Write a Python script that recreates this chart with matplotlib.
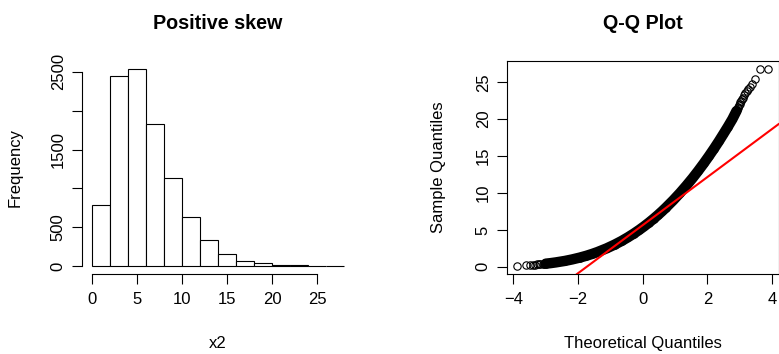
import matplotlib
matplotlib.use("Agg")
import matplotlib.pyplot as plt

plt.rcParams['font.family'] = ['Liberation Sans', 'DejaVu Sans']

# histogram of x2 (bins of width 2)
bin_edges = [0, 2, 4, 6, 8, 10, 12, 14, 16, 18, 20, 22, 24, 26, 28]
counts = [787, 2453, 2539, 1824, 1140, 628, 336, 155, 65, 34, 13, 8, 3, 2]
freq_ticks = [0, 500, 1000, 1500, 2000, 2500]
freq_labels = ['0', '500', '', '1500', '', '2500']

# normal Q-Q plot of x2: sparse low tail, dense body, sparse high tail
theo_low = [-3.89, -3.62, -3.48, -3.39, -3.32, -3.26, -3.22, -3.17, -3.10, -3.05]
samp_low = [0.12, 0.20, 0.24, 0.27, 0.30, 0.32, 0.34, 0.36, 0.40, 0.42]

theo_mid = [-3.00, -2.855, -2.69, -2.41, -2.187, -1.95, -1.744, -1.565, -1.403,
            -1.119, -0.874, -0.655, -0.459, -0.278, -0.110, 0.047, 0.194, 0.333,
            0.466, 0.592, 0.712, 0.940, 1.152, 1.350, 1.539, 1.716, 1.886,
            2.048, 2.204, 2.354, 2.497, 2.638, 2.773, 2.90]
samp_mid = [0.43, 0.5, 0.6, 0.8, 1.0, 1.25, 1.5, 1.75, 2.0,
            2.5, 3.0, 3.5, 4.0, 4.5, 5.0, 5.5, 6.0, 6.5,
            7.0, 7.5, 8.0, 9.0, 10.0, 11.0, 12.0, 13.0, 14.0,
            15.0, 16.0, 17.0, 18.0, 19.0, 20.0, 21.1]

theo_high = [2.92, 2.94, 2.96, 2.98, 3.00, 3.02, 3.05, 3.07, 3.10, 3.14, 3.17,
             3.22, 3.26, 3.32, 3.39, 3.48, 3.62, 3.89]
samp_high = [21.3, 21.5, 21.7, 21.9, 22.1, 22.3, 22.5, 22.7, 22.9, 23.2, 23.5,
             23.8, 24.1, 24.4, 24.8, 25.4, 26.8, 26.8]

# quartiles used for the reference line
norm_quart = [-0.674, 0.674]
samp_quart = [3.455, 7.841]

fig = plt.figure(figsize=(7.79, 3.54), dpi=100)
W, H = 779, 354

FS = 12
tick_kw = dict(direction='out', length=7.2, width=0.8, labelsize=FS, color='black')

# --- left: histogram ---
ax1 = fig.add_axes([82 / W, 80 / H, 272 / W, 213 / H])
ax1.hist(bin_edges[:-1], bins=bin_edges, weights=counts,
         color='white', edgecolor='black', linewidth=0.8)
ax1.set_xlim(-1.12, 29.12)
ax1.set_ylim(-101.6, 2640)
for s in ['top', 'right']:
    ax1.spines[s].set_visible(False)
ax1.spines['left'].set_bounds(0, 2500)
ax1.spines['bottom'].set_bounds(0, 25)
for s in ['left', 'bottom']:
    ax1.spines[s].set_linewidth(0.8)
ax1.set_xticks([0, 5, 10, 15, 20, 25])
ax1.set_yticks(freq_ticks)
ax1.set_yticklabels(freq_labels)
ax1.tick_params(axis='x', pad=5.5, **tick_kw)
ax1.tick_params(axis='y', pad=4.5, labelrotation=90, **tick_kw)
for t in ax1.get_yticklabels():
    t.set_va('center')
ax1.set_xlabel('x2', fontsize=FS)
ax1.set_ylabel('Frequency', fontsize=FS)
ax1.xaxis.set_label_coords(0.5, -0.324)
ax1.xaxis.label.set_va('center')
ax1.yaxis.set_label_coords((15 - 82) / 272, 0.5)
ax1.yaxis.label.set_va('center')
ax1.text(0.5, 1.178, 'Positive skew', transform=ax1.transAxes,
         ha='center', va='center', fontsize=14.2, fontweight='bold')

# --- right: Q-Q plot ---
ax2 = fig.add_axes([507 / W, 80 / H, 271.5 / W, 213 / H])
ax2.plot(theo_mid, samp_mid, color='black', lw=7.5, solid_capstyle='round',
         solid_joinstyle='round', zorder=2)
ax2.plot(theo_low + theo_mid + theo_high, samp_low + samp_mid + samp_high, 'o',
         mfc='none', mec='black', ms=5.3, mew=0.8, zorder=3)
ax2.axline((norm_quart[0], samp_quart[0]), (norm_quart[1], samp_quart[1]),
           color='red', lw=1.5, zorder=4)
ax2.set_xlim(-4.2, 4.2)
ax2.set_ylim(-0.97, 27.87)
for s in ax2.spines.values():
    s.set_linewidth(0.8)
ax2.set_xticks([-4, -2, 0, 2, 4])
ax2.set_yticks([0, 5, 10, 15, 20, 25])
ax2.tick_params(axis='x', pad=5.5, **tick_kw)
ax2.tick_params(axis='y', pad=4.5, labelrotation=90, **tick_kw)
for t in ax2.get_yticklabels():
    t.set_va('center')
ax2.set_xlabel('Theoretical Quantiles', fontsize=FS)
ax2.set_ylabel('Sample Quantiles', fontsize=FS)
ax2.xaxis.set_label_coords(0.5, -0.324)
ax2.xaxis.label.set_va('center')
ax2.yaxis.set_label_coords((438 - 507) / 272, 0.5)
ax2.yaxis.label.set_va('center')
ax2.text(0.5, 1.178, 'Q-Q Plot', transform=ax2.transAxes,
         ha='center', va='center', fontsize=14.2, fontweight='bold')

fig.savefig('out.png', dpi=100)
